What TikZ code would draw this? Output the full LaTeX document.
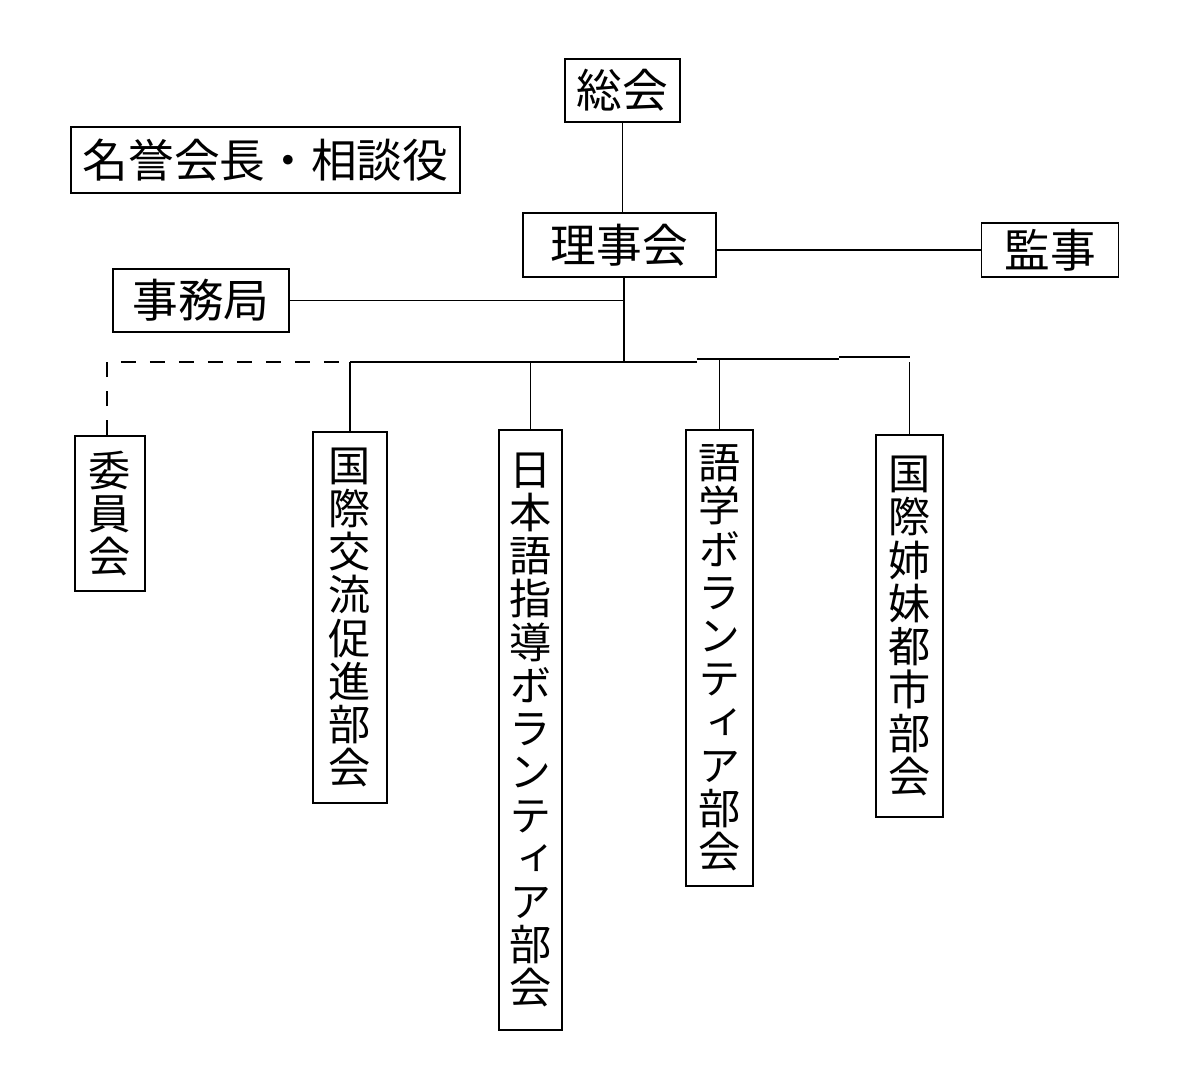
\documentclass[tikz,border=0pt]{standalone}
\usepackage{fontspec}
\newfontfamily\jpfont{Noto Sans CJK JP}
\newfontfamily\jptate[RawFeature=+vert]{Noto Sans CJK JP}

\begin{document}
\begin{tikzpicture}[x=0.2mm,y=-0.2mm,line width=1pt,
  orgbox/.style={draw,inner sep=0pt,font=\jpfont\fontsize{26}{26}\selectfont},
  tatebox/.style={draw,inner sep=0pt,align=center,font=\jptate\fontsize{24}{24.6}\selectfont},
  busline/.style={dash pattern=on 3mm off 2.8mm}]
\useasboundingbox (0,0) rectangle (1200,1069);
\node[orgbox,minimum width=23mm,minimum height=12.6mm] (sokai) at (622.5,90.5) {総会};
\node[orgbox,minimum width=77.8mm,minimum height=13.2mm] (meiyo) at (265.5,160) {名誉会長・相談役};
\node[orgbox,minimum width=38.6mm,minimum height=12.8mm] (riji) at (619.5,245) {理事会};
\node[orgbox,minimum width=27.4mm,minimum height=10.8mm] (kanji) at (1050,250) {監事};
\node[orgbox,minimum width=35.2mm,minimum height=12.6mm] (jimu) at (201,300.5) {事務局};
\node[tatebox,minimum width=14mm,minimum height=31mm] (iin) at (110,513.5) {委\\員\\会};
\node[tatebox,minimum width=14.8mm,minimum height=74.2mm] (kokusai) at (350,617.5) {国\\際\\交\\流\\促\\進\\部\\会};
\node[tatebox,minimum width=12.6mm,minimum height=120mm] (nihongo) at (530.5,730) {日\\本\\語\\指\\導\\ボ\\ラ\\ン\\テ\\ィ\\ア\\部\\会};
\node[tatebox,minimum width=13.4mm,minimum height=91.2mm] (gogaku) at (719.5,658) {語\\学\\ボ\\ラ\\ン\\テ\\ィ\\ア\\部\\会};
\node[tatebox,minimum width=13.4mm,minimum height=76.4mm] (shimai) at (909.5,626) {国\\際\\姉\\妹\\都\\市\\部\\会};
\coordinate (hub) at (624,362);
\coordinate (busL) at (107,362);
\coordinate (busA) at (697,362);
\coordinate (busB) at (697,359);
\coordinate (busC) at (839,359);
\coordinate (busD) at (839,357);
\coordinate (busR) at (910,357);
\draw (sokai.south) -- (sokai.south |- riji.north);
\draw (riji.east |- kanji.west) -- (kanji.west);
\draw (riji.south -| hub) -- (hub);
\draw (jimu.east) -- (jimu.east -| hub);
\draw[busline] (iin.north -| busL) -- (busL) -- (kokusai.north |- busL);
\draw (kokusai.north |- busL) -- (busA);
\draw (busB) -- (busC);
\draw (busD) -- (busR);
\draw (kokusai.north) -- (kokusai.north |- hub);
\draw (nihongo.north) -- (nihongo.north |- hub);
\draw (gogaku.north) -- (gogaku.north |- busB);
\draw (shimai.north) -- (shimai.north |- hub);
\end{tikzpicture}
\end{document}
